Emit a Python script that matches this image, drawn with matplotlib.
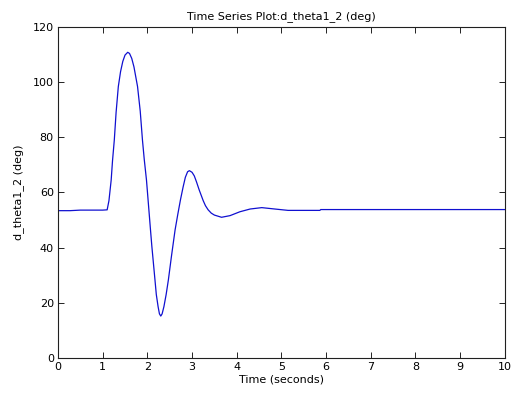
import numpy as np
import matplotlib
matplotlib.use('Agg')
import matplotlib.pyplot as plt

# samples
t = [0.0, 0.27, 0.5, 1.0, 1.10, 1.14, 1.19, 1.22, 1.26, 1.30, 1.35, 1.40, 1.45,
     1.50, 1.56, 1.60, 1.65, 1.70, 1.78, 1.84, 1.89, 1.93, 1.98, 2.07, 2.10,
     2.17, 2.20, 2.24, 2.27, 2.30, 2.33, 2.37, 2.42, 2.47, 2.54, 2.62, 2.68,
     2.74, 2.80, 2.85, 2.90, 2.94, 3.00, 3.05, 3.10, 3.16, 3.25, 3.30, 3.36,
     3.43, 3.50, 3.66, 3.85, 4.07, 4.30, 4.56, 4.85, 5.15, 5.86, 5.88, 10.0]
theta = [53.4, 53.4, 53.6, 53.6, 53.7, 57.0, 64.5, 71.5, 79.0, 89.0, 98.4,
         103.8, 107.5, 109.8, 110.8, 110.4, 108.6, 105.5, 98.4, 89.5, 79.0,
         72.0, 64.5, 46.4, 40.5, 28.3, 23.0, 18.6, 16.0, 15.2, 16.0, 18.6, 23.0,
         28.3, 37.0, 46.4, 52.0, 57.3, 62.0, 65.5, 67.5, 67.9, 67.3, 66.0, 63.8,
         60.9, 57.0, 55.2, 53.7, 52.5, 51.8, 51.0, 51.6, 53.0, 54.0, 54.5, 54.0,
         53.5, 53.5, 53.8, 53.8]

xticks = np.arange(0, 11, 1)
yticks = np.arange(0, 121, 20)

plt.rcParams['font.family'] = ['DejaVu Sans']
plt.rcParams['font.size'] = 8

fig = plt.figure(figsize=(5.11, 3.96), dpi=100)
ax = fig.add_axes([0.1135, 0.096, 0.8745, 0.836])
ax.plot(t, theta, color='#1010d0', linewidth=0.9)

ax.set_xlim(0, 10)
ax.set_ylim(0, 120)
ax.set_xticks(xticks)
ax.set_yticks(yticks)
ax.tick_params(direction='in', length=4, width=0.6, top=True, right=True,
               pad=3, colors='black')
for s in ax.spines.values():
    s.set_linewidth(0.8)
    s.set_color('#202020')

ax.set_title('Time Series Plot:d_theta1_2 (deg)', fontsize=8, pad=6)
ax.set_xlabel('Time (seconds)', labelpad=2)
ax.set_ylabel('d_theta1_2 (deg)', labelpad=6)

fig.savefig('out.png', dpi=100)
